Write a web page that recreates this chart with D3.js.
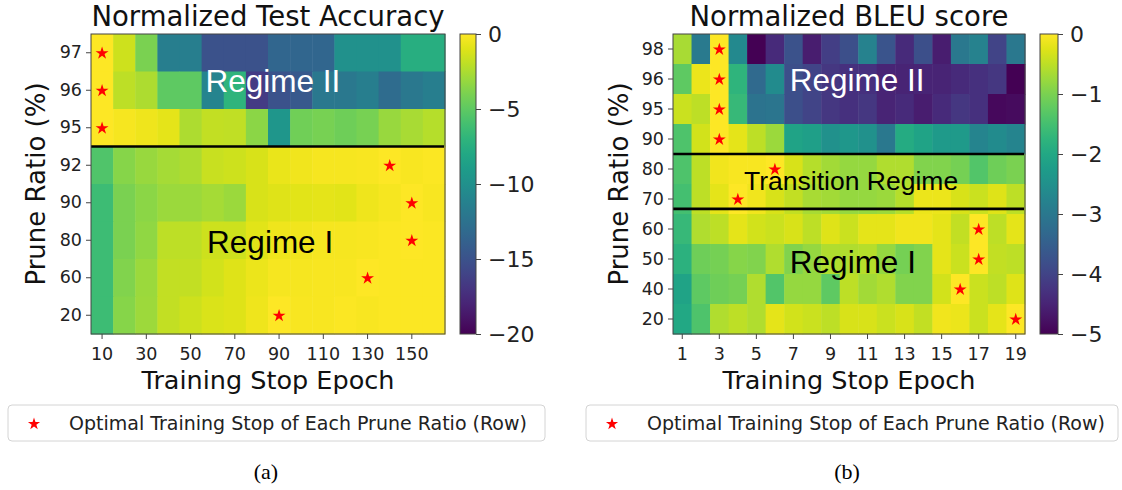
<!DOCTYPE html>
<html><head><meta charset="utf-8">
<script src="https://cdn.jsdelivr.net/npm/d3@7"></script>
<style>body{margin:0;background:#fff} svg{display:block}</style>
</head><body>
<svg id="c" width="1122" height="490"></svg>
<script>
// ---------------- DATA ----------------
const epochsA = [10,20,30,40,50,60,70,80,90,100,110,120,130,140,150,160];
const ratiosA = [97,96,95,92,90,80,60,20];
const xTicksA = [10,30,50,70,90,110,130,150];
const cbarTicksA = [0,-5,-10,-15,-20];
const accA = [
  [0,-1.5,-4,-11.5,-11.5,-15,-15,-15,-13.5,-13.5,-13.5,-10,-10,-10,-7.5,-7.5],
  [0,-2,-2.5,-5,-5,-11,-7,-16.5,-15,-14.5,-12,-12,-11.5,-13,-12,-11.5],
  [0,-0.3,-0.5,-0.8,-2.5,-1.8,-1.9,-3.5,-9.5,-4.3,-4.1,-4.4,-4.1,-3.1,-2.6,-2.2],
  [-5.5,-3.6,-3.1,-2.7,-2.5,-1.7,-1.5,-1.2,-0.7,-0.4,-0.3,-0.3,-0.2,0,-0.2,-0.1],
  [-6.3,-4,-3.5,-3,-3,-2.7,-3,-1.2,-1,-0.9,-0.8,-0.9,-0.5,-0.3,0,-0.2],
  [-6.3,-4,-3.3,-2,-2,-1.5,-1.5,-0.9,-0.5,-0.4,-0.3,-0.3,-0.2,-0.1,0,-0.1],
  [-6.3,-3.8,-3,-1.8,-1.8,-1.4,-1,-0.6,-0.3,-0.3,-0.2,-0.2,0,-0.1,-0.1,-0.1],
  [-6.3,-3.6,-2.9,-1.8,-1.5,-1.1,-1,-0.5,0,-0.2,-0.2,-0.1,-0.2,-0.1,-0.1,-0.1]
];
const starsA = [10,10,10,140,150,150,130,90];   // optimal epoch per row

const epochsB = [1,2,3,4,5,6,7,8,9,10,11,12,13,14,15,16,17,18,19];
const ratiosB = [98,96,95,90,80,70,60,50,40,20];
const xTicksB = [1,3,5,7,9,11,13,15,17,19];
const cbarTicksB = [0,-1,-2,-3,-4,-5];
const bleuB = [
  [-0.65,-2.95,0,-2.65,-5.0,-4.4,-3.75,-4.6,-4.1,-3.8,-2.8,-3.7,-4.4,-3.8,-4.6,-3.0,-2.8,-4.0,-3.0],
  [-1.25,-0.15,0,-1.75,-3.3,-2.6,-3.8,-4.0,-4.2,-4.3,-4.3,-4.5,-4.5,-4.5,-4.5,-4.4,-4.3,-4.2,-5.0],
  [-0.4,-0.5,0,-1.65,-3.1,-3.05,-3.8,-4.0,-4.2,-4.3,-4.2,-4.5,-4.4,-4.6,-4.4,-4.2,-4.3,-4.9,-4.85],
  [-1.4,-0.35,0,-0.2,-0.5,-0.75,-2.1,-2.2,-2.5,-2.35,-2.5,-3.0,-1.95,-2.1,-2.3,-2.3,-2.75,-2.6,-2.75],
  [-1.4,-0.5,-0.1,-0.05,-0.05,0,-0.3,-0.55,-0.7,-0.8,-0.8,-0.6,-0.6,-0.95,-0.95,-1.05,-1.35,-1.1,-1.0],
  [-1.5,-0.5,-0.2,0,-0.1,-0.3,-0.45,-0.65,-0.7,-0.8,-0.8,-0.75,-0.55,-0.15,-0.15,-0.3,-0.4,-0.25,-0.5],
  [-1.65,-0.6,-0.5,-0.2,-0.35,-0.4,-0.3,-0.5,-0.25,-0.4,-0.2,-0.2,-0.1,-0.1,-0.2,-0.45,0,-0.5,-0.2],
  [-1.8,-1.1,-1.05,-0.9,-0.95,-0.6,-0.95,-0.8,-0.6,-0.6,-0.55,-0.8,-1.05,-0.95,-0.2,-0.4,0,-0.45,-0.5],
  [-2.1,-1.25,-1.1,-1.05,-0.6,-1.35,-0.8,-0.8,-1.25,-0.5,-0.7,-0.6,-0.95,-0.95,-0.35,0,-0.4,-0.5,-0.25],
  [-2.0,-1.4,-0.6,-0.5,-0.6,-0.2,-0.35,-0.4,-0.5,-0.3,-0.3,-0.4,-0.3,-0.45,-0.1,-0.15,-0.4,-0.2,0]
];
const starsB = [3,3,3,3,6,4,17,17,16,19];

const legendLabel = "Optimal Training Stop of Each Prune Ratio (Row)";

// ---------------- DRAW ----------------
const svg = d3.select("#c");
const FONT = "DejaVu Sans, sans-serif";
const minus = s => String(s).replace("-", "\u2212");

function panel(cfg) {
  const g = svg.append("g");
  const x = d3.scaleBand().domain(cfg.epochs).range([cfg.x0, cfg.x0 + cfg.w]).padding(0);
  const y = d3.scaleBand().domain(cfg.ratios).range([cfg.y0, cfg.y0 + cfg.h]).padding(0);
  const color = d3.scaleSequential(d3.interpolateViridis).domain(cfg.vdomain);

  const cells = [];
  cfg.values.forEach((row, i) => row.forEach((v, j) => cells.push({r: cfg.ratios[i], e: cfg.epochs[j], v})));
  g.append("g").selectAll("rect").data(cells).join("rect")
    .attr("x", d => x(d.e)).attr("y", d => y(d.r))
    .attr("width", x.bandwidth() + 0.5).attr("height", y.bandwidth() + 0.5)
    .attr("fill", d => color(d.v));

  // regime separator lines (in row units)
  cfg.lines.forEach(k => {
    const yy = cfg.y0 + k * y.bandwidth();
    g.append("line").attr("x1", cfg.x0).attr("x2", cfg.x0 + cfg.w - 1)
      .attr("y1", yy).attr("y2", yy).attr("stroke", "#000").attr("stroke-width", 2.6);
  });

  // stars
  const star = d3.symbol().type(d3.symbolStar).size(52);
  g.append("g").selectAll("path").data(cfg.stars.map((e, i) => ({e, r: cfg.ratios[i]}))).join("path")
    .attr("d", star)
    .attr("transform", d => `translate(${x(d.e) + x.bandwidth()/2},${y(d.r) + y.bandwidth()/2 + 0.5})`)
    .attr("fill", "#ff0000");

  // frame
  g.append("rect").attr("x", cfg.x0).attr("y", cfg.y0).attr("width", cfg.w).attr("height", cfg.h)
    .attr("fill", "none").attr("stroke", "#444").attr("stroke-width", 1);

  // axes
  const xAxis = d3.axisBottom(x).tickValues(cfg.xTicks).tickSize(5).tickPadding(4);
  const gx = g.append("g").attr("transform", `translate(0,${cfg.y0 + cfg.h})`).call(xAxis);
  const yAxis = d3.axisLeft(y).tickSize(5).tickPadding(4);
  const gy = g.append("g").attr("transform", `translate(${cfg.x0},0)`).call(yAxis);
  [gx, gy].forEach(a => {
    a.select(".domain").remove();
    a.selectAll(".tick line").attr("stroke", "#444");
    a.selectAll(".tick text").attr("font-family", FONT).attr("font-size", 17.5).attr("fill", "#222");
  });
  gx.selectAll(".tick text").attr("dy", "0.95em");

  // regime labels
  cfg.labels.forEach(l => {
    g.append("text").attr("x", cfg.x0 + l.fx * cfg.w).attr("y", cfg.y0 + l.fy * cfg.h)
      .attr("text-anchor", "middle").attr("font-family", "Liberation Sans, Arial, sans-serif")
      .attr("font-size", l.size).attr("fill", l.color).text(l.text);
  });

  // title
  g.append("text").attr("x", cfg.x0 + cfg.w/2).attr("y", 26).attr("text-anchor", "middle")
    .attr("font-family", FONT).attr("font-size", 27.5).attr("fill", "#111").text(cfg.title);
  // x label
  g.append("text").attr("x", cfg.x0 + cfg.w/2).attr("y", 389).attr("text-anchor", "middle")
    .attr("font-family", FONT).attr("font-size", 25.5).attr("fill", "#111").text("Training Stop Epoch");
  // y label
  g.append("text").attr("transform", `translate(${cfg.ylabX},${cfg.y0 + cfg.h/2}) rotate(-90)`)
    .attr("text-anchor", "middle").attr("font-family", FONT).attr("font-size", 26)
    .attr("fill", "#111").text("Prune Ratio (%)");

  // colorbar
  const gid = "grad" + cfg.id;
  const grad = svg.append("defs").append("linearGradient").attr("id", gid)
    .attr("x1", 0).attr("y1", 1).attr("x2", 0).attr("y2", 0);
  d3.range(0, 1.0001, 0.05).forEach(t => grad.append("stop").attr("offset", t).attr("stop-color", d3.interpolateViridis(t)));
  const cy = d3.scaleLinear().domain(cfg.vdomain).range([cfg.y0 + cfg.h, cfg.y0]);
  g.append("rect").attr("x", cfg.cbX).attr("y", cfg.y0).attr("width", cfg.cbW).attr("height", cfg.h)
    .attr("fill", `url(#${gid})`).attr("stroke", "#444").attr("stroke-width", 1);
  const cAxis = d3.axisRight(cy).tickValues(cfg.cbarTicks).tickSize(5).tickPadding(7).tickFormat(minus);
  const gc = g.append("g").attr("transform", `translate(${cfg.cbX + cfg.cbW},0)`).call(cAxis);
  gc.select(".domain").remove();
  gc.selectAll(".tick line").attr("stroke", "#444");
  gc.selectAll(".tick text").attr("font-family", FONT).attr("font-size", 22).attr("fill", "#222");

  // legend
  const lg = g.append("g");
  lg.append("rect").attr("x", cfg.legX).attr("y", 405).attr("width", cfg.legW).attr("height", 36)
    .attr("rx", 4).attr("fill", "#fff").attr("stroke", "#d4d4d4").attr("stroke-width", 1);
  lg.append("path").attr("d", d3.symbol().type(d3.symbolStar).size(46))
    .attr("transform", `translate(${cfg.legX + 26},424)`).attr("fill", "#ff0000");
  lg.append("text").attr("x", cfg.legX + 61).attr("y", 430).attr("font-family", FONT)
    .attr("font-size", 19).attr("fill", "#222")
    .text(legendLabel);

  // caption
  g.append("text").attr("x", cfg.x0 + cfg.w/2 - 2).attr("y", 479).attr("text-anchor", "middle")
    .attr("font-family", "Liberation Serif, Times New Roman, serif").attr("font-size", 22)
    .attr("fill", "#000").text(cfg.caption);
}

panel({
  id: "A", epochs: epochsA, ratios: ratiosA, values: accA, stars: starsA, xTicks: xTicksA,
  vdomain: [-20, 0], cbarTicks: cbarTicksA, title: "Normalized Test Accuracy",
  x0: 91, y0: 34, w: 354, h: 300, cbX: 460, cbW: 16, ylabX: 45, legX: 8, legW: 537,
  lines: [3], caption: "(a)",
  labels: [
    {text: "Regime II", fx: 0.514, fy: 0.193, size: 31.5, color: "#fff"},
    {text: "Regime I", fx: 0.506, fy: 0.73, size: 31.5, color: "#000"}
  ]
});
panel({
  id: "B", epochs: epochsB, ratios: ratiosB, values: bleuB, stars: starsB, xTicks: xTicksB,
  vdomain: [-5, 0], cbarTicks: cbarTicksB, title: "Normalized BLEU score",
  x0: 673, y0: 34, w: 352, h: 300, cbX: 1040, cbW: 18, ylabX: 628, legX: 586, legW: 532,
  lines: [4, 5.83], caption: "(b)",
  labels: [
    {text: "Regime II", fx: 0.523, fy: 0.19, size: 31.5, color: "#fff"},
    {text: "Transition Regime", fx: 0.506, fy: 0.52, size: 26.5, color: "#000"},
    {text: "Regime I", fx: 0.511, fy: 0.797, size: 31.5, color: "#000"}
  ]
});
</script>
</body></html>
